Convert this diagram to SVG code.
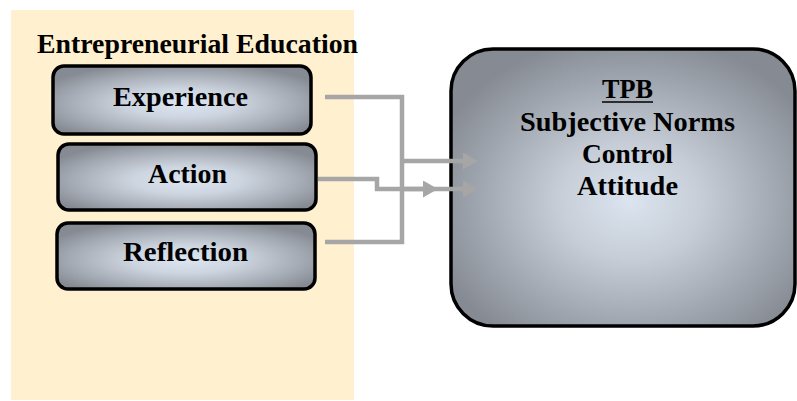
<svg xmlns="http://www.w3.org/2000/svg" width="797" height="401" viewBox="0 0 797 401">
  <defs>
    <radialGradient id="boxFill" cx="0.5" cy="0.55" r="0.6">
      <stop offset="0" stop-color="#dce5f0"/>
      <stop offset="0.35" stop-color="#cdd5e0"/>
      <stop offset="0.75" stop-color="#a4aab3"/>
      <stop offset="1" stop-color="#868b93"/>
    </radialGradient>
    <radialGradient id="bigFill" cx="0.52" cy="0.55" r="0.6">
      <stop offset="0" stop-color="#dbe4ef"/>
      <stop offset="0.35" stop-color="#c6cdd7"/>
      <stop offset="0.75" stop-color="#9ea4ad"/>
      <stop offset="1" stop-color="#868b93"/>
    </radialGradient>
    <marker id="arrow" markerUnits="userSpaceOnUse" markerWidth="16" markerHeight="18" refX="0" refY="8.5" orient="auto">
      <path d="M0,0 L15,8.5 L0,17 z" fill="#a6a6a6"/>
    </marker>
    <style>
      .box { fill: url(#boxFill); stroke: #000; stroke-width: 3.5; }
      .label { font-family: "Liberation Serif", "Times New Roman", serif; font-weight: bold; font-size: 27px; fill: #000; }
      .wire { fill: none; stroke: #a6a6a6; stroke-width: 4.5; }
    </style>
  </defs>

  <!-- education panel -->
  <g id="education">
    <rect x="11" y="10" width="343" height="390" fill="#fff1cf"/>
    <text class="label" x="37" y="53" font-size="26" textLength="321" lengthAdjust="spacingAndGlyphs">Entrepreneurial Education</text>
  </g>

  <g id="experience">
    <rect class="box" x="53" y="66" width="258" height="68" rx="11"/>
    <text class="label" x="113" y="106" textLength="135" lengthAdjust="spacingAndGlyphs">Experience</text>
  </g>

  <g id="action">
    <rect class="box" x="58" y="144" width="258" height="66" rx="11"/>
    <text class="label" x="148" y="183" textLength="79" lengthAdjust="spacingAndGlyphs">Action</text>
  </g>

  <g id="reflection">
    <rect class="box" x="57" y="223" width="258" height="66" rx="11"/>
    <text class="label" x="123" y="261" textLength="125" lengthAdjust="spacingAndGlyphs">Reflection</text>
  </g>

  <g id="tpb">
    <rect x="451" y="49" width="344" height="277" rx="42" fill="url(#bigFill)" stroke="#000" stroke-width="3.5"/>
    <text class="label" x="602" y="98" textLength="51" lengthAdjust="spacingAndGlyphs">TPB</text>
    <line x1="602" y1="102" x2="653" y2="102" stroke="#000" stroke-width="1.6"/>
    <text class="label" x="520" y="131" textLength="215" lengthAdjust="spacingAndGlyphs">Subjective Norms</text>
    <text class="label" x="582" y="163" textLength="91" lengthAdjust="spacingAndGlyphs">Control</text>
    <text class="label" x="577" y="195" textLength="101" lengthAdjust="spacingAndGlyphs">Attitude</text>
  </g>

  <!-- connectors -->
  <g id="connectors">
    <path class="wire" d="M325,97 H402 V242 H325"/>
    <path class="wire" d="M318,179 H377 V189 H423" marker-end="url(#arrow)"/>
    <path class="wire" d="M402,161 H463" marker-end="url(#arrow)"/>
    <path class="wire" d="M402,189 H463" marker-end="url(#arrow)"/>
  </g>
</svg>
